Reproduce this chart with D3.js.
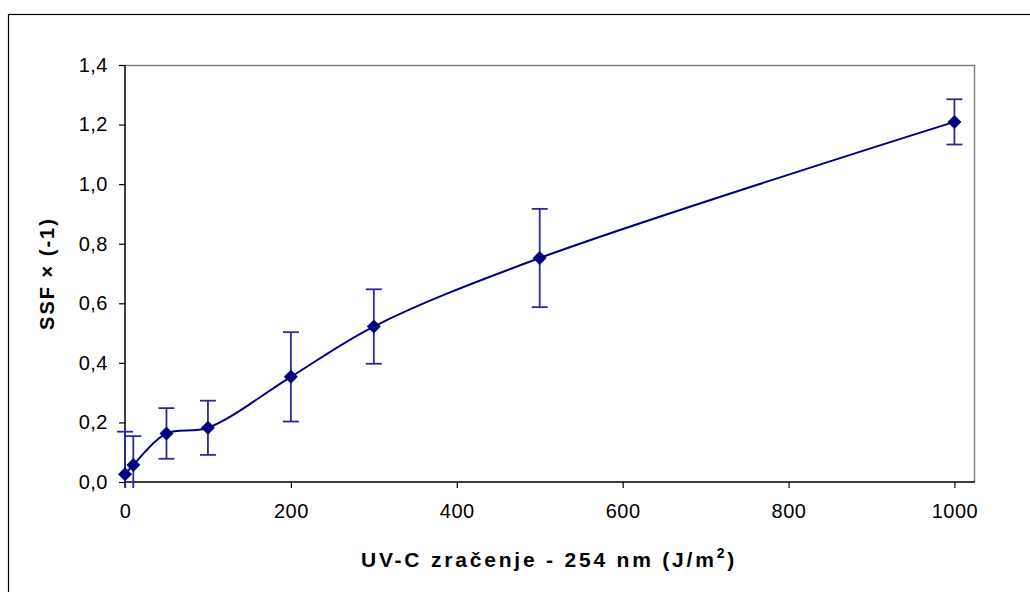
<!DOCTYPE html>
<html>
<head>
<meta charset="utf-8">
<script src="https://cdn.jsdelivr.net/npm/d3@7"></script>
<style>
  body { margin: 0; background: #fff; }
  svg { display: block; }
  text { font-family: "Liberation Sans", Arial, sans-serif; fill: #000; }
</style>
</head>
<body>
<div id="chart"></div>
<script>
// UV-C dose (J/m2) vs SSF x (-1), mean with error bars
const doses = [0, 10, 50, 100, 200, 300, 500, 1000];
const ssf = [0.026, 0.057, 0.163, 0.182, 0.353, 0.522, 0.752, 1.209];
const ssfErr = [0.143, 0.097, 0.085, 0.091, 0.15, 0.125, 0.165, 0.076];
const xTicks = [0, 200, 400, 600, 800, 1000];
const yTicks = [0, 0.2, 0.4, 0.6, 0.8, 1.0, 1.2, 1.4];

const width = 1030, height = 592;
const plot = {left: 125, right: 974, top: 65, bottom: 482};

const svg = d3.select('#chart').append('svg')
    .attr('width', width)
    .attr('height', height);

// outer chart frame (runs off the bottom/right edge)
svg.append('rect')
    .attr('x', 8.5).attr('y', 14.5)
    .attr('width', 1040).attr('height', 600)
    .attr('fill', 'none')
    .attr('stroke', '#000')
    .attr('stroke-width', 1.2);

const x = d3.scaleLinear()
    .domain([0, 1023.6])
    .range([plot.left, plot.right]);
const y = d3.scaleLinear()
    .domain([0, 1.4])
    .range([plot.bottom, plot.top]);

// plot area border: grey top/right
svg.append('path')
    .attr('d', `M${plot.left},${plot.top + 0.5}H${plot.right + 0.5}V${plot.bottom}`)
    .attr('fill', 'none')
    .attr('stroke', '#808080')
    .attr('stroke-width', 1.5);

const fmt = d => d3.format('.1f')(d).replace('.', ',');

const yAxis = svg.append('g')
    .attr('transform', `translate(${plot.left},0)`)
    .call(d3.axisLeft(y).tickValues(yTicks).tickFormat(fmt).tickSize(6).tickPadding(11));
const xAxis = svg.append('g')
    .attr('transform', `translate(0,${plot.bottom})`)
    .call(d3.axisBottom(x).tickValues(xTicks).tickFormat(d3.format('d')).tickSize(6).tickPadding(16));

[yAxis, xAxis].forEach(g => {
  g.select('.domain').attr('stroke', '#000').attr('stroke-width', 1.5);
  g.selectAll('.tick line').attr('stroke', '#000').attr('stroke-width', 1.2);
  g.selectAll('.tick text')
      .style('font-family', '"Liberation Sans", Arial, sans-serif')
      .style('font-size', '20px')
      .attr('letter-spacing', '0.5')
      .attr('fill', '#000');
});
xAxis.select('.domain').attr('d', `M${plot.left},0H${plot.right + 1}`);
yAxis.select('.domain').attr('d', `M0,${plot.top}V${plot.bottom}`);

const pts = doses.map((d, i) => ({x: d, y: ssf[i], e: ssfErr[i]}));

// error bars, clipped just below the x axis
svg.append('clipPath').attr('id', 'clip')
  .append('rect')
    .attr('x', plot.left - 10).attr('y', plot.top - 10)
    .attr('width', plot.right - plot.left + 20)
    .attr('height', plot.bottom - plot.top + 16);

const bars = svg.append('g')
    .attr('clip-path', 'url(#clip)')
    .attr('stroke', '#2b2b9b')
    .attr('stroke-width', 1.8)
    .selectAll('g').data(pts).enter().append('g');
bars.append('line')
    .attr('x1', d => x(d.x)).attr('x2', d => x(d.x))
    .attr('y1', d => y(d.y + d.e)).attr('y2', d => y(d.y - d.e));
bars.append('line')
    .attr('x1', d => x(d.x) - 8).attr('x2', d => x(d.x) + 8)
    .attr('y1', d => y(d.y + d.e)).attr('y2', d => y(d.y + d.e));
bars.append('line')
    .attr('x1', d => x(d.x) - 8).attr('x2', d => x(d.x) + 8)
    .attr('y1', d => y(d.y - d.e)).attr('y2', d => y(d.y - d.e));

// smoothed series line
const line = d3.line()
    .x(d => x(d.x))
    .y(d => y(d.y))
    .curve(d3.curveCatmullRom.alpha(0.5));
svg.append('path')
    .datum(pts)
    .attr('d', line)
    .attr('fill', 'none')
    .attr('stroke', '#000080')
    .attr('stroke-width', 2);

// diamond markers
svg.append('g').selectAll('path').data(pts).enter().append('path')
    .attr('d', 'M0,-7L7,0L0,7L-7,0Z')
    .attr('transform', d => `translate(${x(d.x)},${y(d.y)})`)
    .attr('fill', '#000080');

// axis titles
svg.append('text')
    .attr('transform', `translate(54,${(plot.top + plot.bottom) / 2}) rotate(-90)`)
    .attr('text-anchor', 'middle')
    .style('font-size', '20px')
    .style('font-weight', 'bold')
    .attr('letter-spacing', '2')
    .text('SSF × (-1)');

const xt = svg.append('text')
    .attr('x', 549).attr('y', 567)
    .attr('text-anchor', 'middle')
    .style('font-size', '21px')
    .style('font-weight', 'bold')
    .attr('letter-spacing', '2.8');
xt.append('tspan').text('UV-C zračenje - 254 nm (J/m');
xt.append('tspan').attr('dy', -9).style('font-size', '14px').text('2');
xt.append('tspan').attr('dy', 9).text(')');
</script>
</body>
</html>
